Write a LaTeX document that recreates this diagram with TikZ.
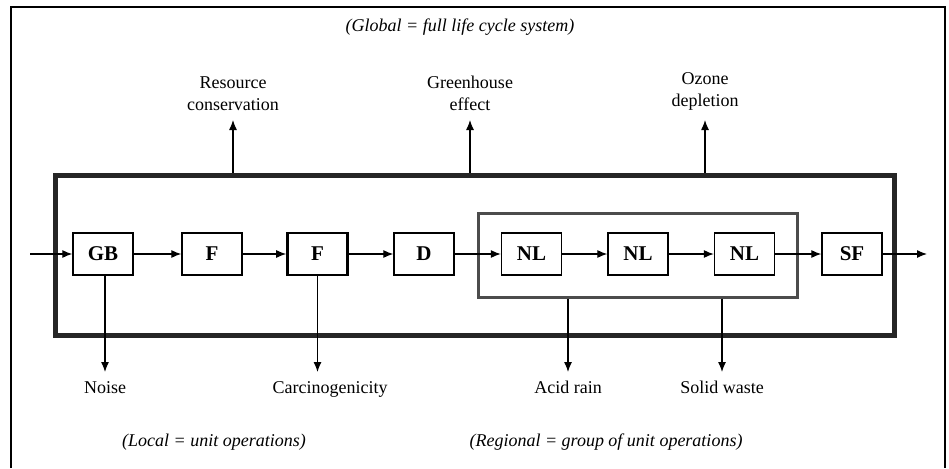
\documentclass[tikz,border=0pt]{standalone}
\usepackage{fontspec}
\setmainfont{Liberation Serif}
\usetikzlibrary{arrows.meta,positioning}

\begin{document}
\begin{tikzpicture}[x=1pt,y=-1pt,>={Latex[length=10,width=8]},
		unit/.style={draw,line width=1.3pt,minimum width=60pt,minimum height=42pt,inner sep=0pt,font=\fontsize{21}{24}\selectfont\bfseries},
		impact/.style={font=\fontsize{18}{22}\selectfont,align=center,outer sep=6pt},
		level/.style={font=\fontsize{18}{22}\selectfont\itshape},
		group/.style={draw,inner sep=0pt}]
		\useasboundingbox (0,0) rectangle (949,468);
		% Frame
		\draw[line width=1.5pt] (11,468) -- (11,7) -- (945,7) -- (945,468);
		% Global and regional boundaries
		\node[group,line width=5pt,draw=black!85,minimum width=839pt,minimum height=160pt] (sys) at (474.5,255) {};
		\node[group,line width=3pt,draw=black!70,minimum width=319pt,minimum height=84pt] (reg) at (637.5,255) {};
		% Unit operations
		\node[unit] (gb) at (103,254) {GB};
		\node[unit] (fa) at (212,254) {F};
		\node[unit,line width=2.6pt] (fb) at (317.5,254) {F};
		\node[unit] (d) at (424,254) {D};
		\node[unit] (nla) at (531.5,254) {NL};
		\node[unit] (nlb) at (638,254) {NL};
		\node[unit] (nlc) at (744.5,254) {NL};
		\node[unit] (sf) at (852,254) {SF};
		\coordinate (in) at (30,254);
		\coordinate (out) at (927,254);
		\draw[->,line width=1.2pt] (in) -- (gb);
		\draw[->,line width=1.2pt] (gb) -- (fa);
		\draw[->,line width=1.2pt] (fa) -- (fb);
		\draw[->,line width=1.2pt] (fb) -- (d);
		\draw[->,line width=1.2pt] (d) -- (nla);
		\draw[->,line width=1.2pt] (nla) -- (nlb);
		\draw[->,line width=1.2pt] (nlb) -- (nlc);
		\draw[->,line width=1.2pt] (nlc) -- (sf);
		\draw[->,line width=1.2pt] (sf) -- (out);
		% Global impacts
		\node[level] (glob) at (460,27) {(Global = full life cycle system)};
		\node[impact,anchor=south] (res) at (233,120) {Resource\\conservation};
		\node[impact,anchor=south] (gh) at (470,120) {Greenhouse\\effect};
		\node[impact,anchor=south] (oz) at (705,120) {Ozone\\depletion};
		\draw[->,line width=1.2pt] (sys.north -| res.south) -- (res.south);
		\draw[->,line width=1.2pt] (sys.north -| gh.south) -- (gh.south);
		\draw[->,line width=1.2pt] (sys.north -| oz.south) -- (oz.south);
		% Local and regional impacts
		\node[impact,anchor=north] (noise) at (105,372) {Noise};
		\node[impact,anchor=north] (carc) at (330,372) {Carcinogenicity};
		\node[impact,anchor=north] (acid) at (568,372) {Acid rain};
		\node[impact,anchor=north] (waste) at (722,372) {Solid waste};
		\draw[->,line width=1.2pt] (gb.south -| noise.north) -- (noise.north);
		\draw[->,line width=1.2pt] (fb.south) -- (fb.south |- carc.north);
		\draw[->,line width=1.2pt] (reg.south -| acid.north) -- (acid.north);
		\draw[->,line width=1.2pt] (reg.south -| waste.north) -- (waste.north);
		\node[level] (loc) at (214,442) {(Local = unit operations)};
		\node[level] (regl) at (606,442) {(Regional = group of unit operations)};
	\end{tikzpicture}
\end{document}
